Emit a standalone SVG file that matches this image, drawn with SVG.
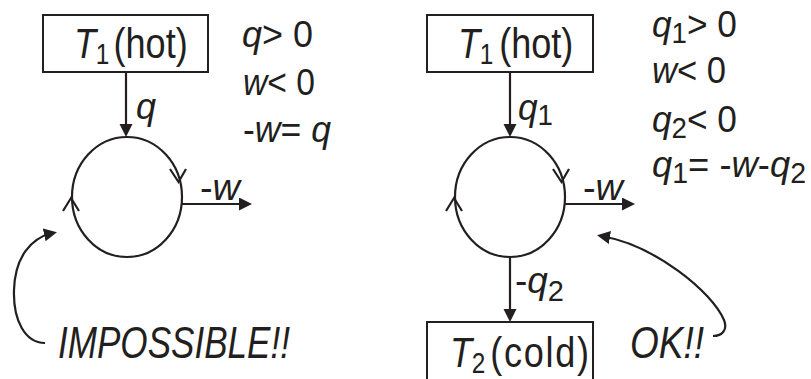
<svg xmlns="http://www.w3.org/2000/svg" width="811" height="379" viewBox="0 0 811 379">
<style>
  text { font-family: "Liberation Sans", Arial, sans-serif; fill: #231f20; }
  .i { font-style: italic; }
  .box { fill: #ffffff; stroke: #231f20; stroke-width: 2; }
  .cyc { fill: none; stroke: #231f20; stroke-width: 2.2; }
  .conn { fill: none; stroke: #231f20; stroke-width: 2.2; }
  .arr { marker-end: url(#ah); }
  .big { font-size: 43px; }
  .mid { font-size: 37px; }
  .sub { font-size: 29px; }
  .lab { font-size: 44px; font-style: italic; }
</style>
<defs>
  <marker id="ah" markerUnits="userSpaceOnUse" markerWidth="14" markerHeight="14" refX="9" refY="6.5" orient="auto">
    <path d="M0,0 L13,6.5 L0,13 Z" fill="#231f20"/>
  </marker>
</defs>

<g id="connectors">
  <line class="conn arr" x1="126" y1="72" x2="126" y2="133"/>
  <line class="conn arr" x1="182" y1="204" x2="248" y2="204"/>
  <path class="conn arr" d="M45,343 C25,343 13,320 14,290 C15,258 30,238 53,233"/>
  <line class="conn arr" x1="510" y1="72" x2="510" y2="133"/>
  <line class="conn arr" x1="565" y1="204" x2="631" y2="204"/>
  <line class="conn arr" x1="510" y1="257" x2="510" y2="318"/>
  <path class="conn arr" d="M713,336 C722,336 728,330 724,320 C712,292 655,245 601,236"/>
</g>

<g id="left-hot">
  <rect class="box" x="43" y="15" width="165" height="57"/>
  <text class="big" transform="translate(74,58) scale(0.84,1)"><tspan class="i">T</tspan><tspan class="sub" x="26" dy="6">1</tspan><tspan x="47" dy="-6">(hot)</tspan></text>
</g>

<g id="left-engine">
  <ellipse class="cyc" cx="127" cy="197" rx="55" ry="60"/>
  <path class="cyc" d="M170,169 L178.5,182 L186,169"/>
  <path class="cyc" d="M63,211 L71,198 L79,211"/>
</g>

<g id="left-conditions">
  <text class="mid" x="242" y="47" textLength="71" lengthAdjust="spacingAndGlyphs"><tspan class="i">q</tspan>&gt; 0</text>
  <text class="mid" x="243" y="95" textLength="72" lengthAdjust="spacingAndGlyphs"><tspan class="i">w</tspan>&lt; 0</text>
  <text class="mid" x="243" y="142" textLength="88" lengthAdjust="spacingAndGlyphs">-<tspan class="i">w</tspan>= <tspan class="i">q</tspan></text>
</g>

<g id="left-labels">
  <text class="mid i" x="136" y="119" textLength="20" lengthAdjust="spacingAndGlyphs">q</text>
  <text class="mid" x="200" y="200" textLength="40" lengthAdjust="spacingAndGlyphs">-<tspan class="i">w</tspan></text>
</g>

<g id="impossible">
  <text class="lab" x="58" y="358" textLength="232" lengthAdjust="spacingAndGlyphs">IMPOSSIBLE!!</text>
</g>

<g id="right-hot">
  <rect class="box" x="427" y="15" width="166" height="57"/>
  <text class="big" transform="translate(458,58) scale(0.84,1)"><tspan class="i">T</tspan><tspan class="sub" x="26" dy="6">1</tspan><tspan x="49" dy="-6">(hot)</tspan></text>
</g>

<g id="right-engine">
  <ellipse class="cyc" cx="510" cy="197" rx="55" ry="60"/>
  <path class="cyc" d="M553,169 L561.5,182 L569,169"/>
  <path class="cyc" d="M446,211 L454,198 L462,211"/>
</g>

<g id="right-conditions">
  <text class="mid" x="652" y="37" textLength="85" lengthAdjust="spacingAndGlyphs"><tspan class="i">q</tspan><tspan class="sub" dy="6">1</tspan><tspan dy="-6">&gt; 0</tspan></text>
  <text class="mid" x="652" y="83" textLength="74" lengthAdjust="spacingAndGlyphs"><tspan class="i">w</tspan>&lt; 0</text>
  <text class="mid" x="652" y="132" textLength="85" lengthAdjust="spacingAndGlyphs"><tspan class="i">q</tspan><tspan class="sub" dy="6">2</tspan><tspan dy="-6">&lt; 0</tspan></text>
  <text class="mid" x="652" y="177" textLength="154" lengthAdjust="spacingAndGlyphs"><tspan class="i">q</tspan><tspan class="sub" dy="6">1</tspan><tspan dy="-6">= -</tspan><tspan class="i">w</tspan>-<tspan class="i">q</tspan><tspan class="sub" dy="6">2</tspan></text>
</g>

<g id="right-labels">
  <text class="mid" x="518" y="120" textLength="35" lengthAdjust="spacingAndGlyphs"><tspan class="i">q</tspan><tspan class="sub" dy="5">1</tspan></text>
  <text class="mid" x="583" y="200" textLength="40" lengthAdjust="spacingAndGlyphs">-<tspan class="i">w</tspan></text>
  <text class="mid" x="515" y="293" textLength="49" lengthAdjust="spacingAndGlyphs">-<tspan class="i">q</tspan><tspan class="sub" dy="8">2</tspan></text>
</g>

<g id="right-cold">
  <rect class="box" x="427" y="322" width="166" height="70"/>
  <text class="big" transform="translate(450,367) scale(0.84,1)"><tspan class="i">T</tspan><tspan class="sub" x="26" dy="6">2</tspan><tspan x="48" dy="-6" letter-spacing="2">(cold)</tspan></text>
</g>

<g id="ok">
  <text class="lab" x="630" y="358" textLength="74" lengthAdjust="spacingAndGlyphs">OK!!</text>
</g>
</svg>
